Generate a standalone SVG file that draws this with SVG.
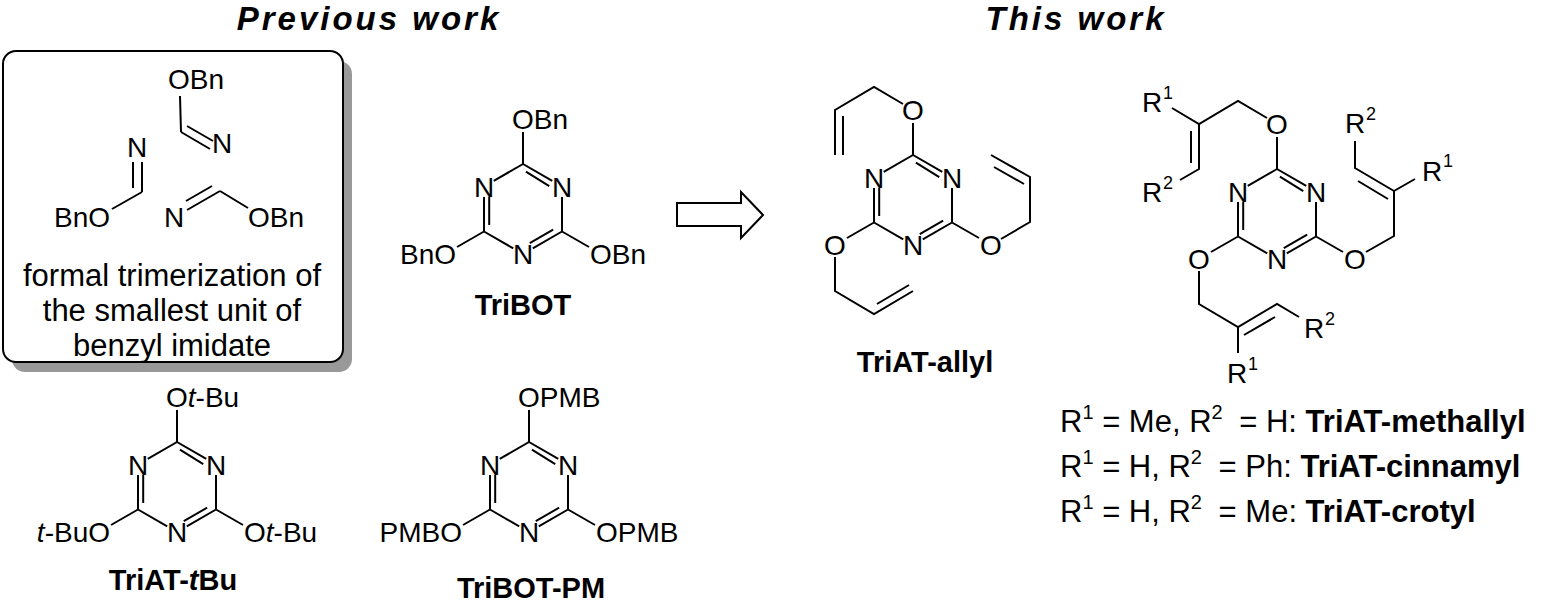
<svg xmlns="http://www.w3.org/2000/svg" xmlns:xlink="http://www.w3.org/1999/xlink" width="1544" height="605" viewBox="0 0 1544 605">
<style>
text{font-family:"Liberation Sans",Arial,sans-serif;fill:#000}
.t{font-size:28px}
.s{font-size:18px}
.l{font-size:31px}
.ls{font-size:20px}
.b{font-size:29px;font-weight:bold}
.h{font-size:33px;font-weight:bold;font-style:italic;letter-spacing:3px}
.m{font-size:31px}
line,polyline{stroke:#000;stroke-width:2;fill:none}
</style>
<defs>
<g id="tz">
<line x1="0" y1="-45" x2="29.25" y2="-28.1"/>
<line x1="2.9" y1="-37.4" x2="26.25" y2="-22.9"/>
<line x1="-29.25" y1="-28.1" x2="0" y2="-45"/>
<line x1="39" y1="-12" x2="39" y2="22.5"/>
<line x1="39" y1="22.5" x2="9.75" y2="39.4"/>
<line x1="30.15" y1="20.7" x2="6.75" y2="34.2"/>
<line x1="-9.75" y1="39.4" x2="-39" y2="22.5"/>
<line x1="-39" y1="22.5" x2="-39" y2="-12"/>
<line x1="-33.8" y1="16" x2="-33.8" y2="-12"/>
<line x1="0" y1="-45" x2="0" y2="-77"/>
<line x1="-39" y1="22.5" x2="-66" y2="38"/>
<line x1="39" y1="22.5" x2="66" y2="38"/>
<text class="t" x="-39" y="-12.5" text-anchor="middle">N</text>
<text class="t" x="39" y="-12.5" text-anchor="middle">N</text>
<text class="t" x="0" y="55" text-anchor="middle">N</text>
</g>
</defs>
<rect width="1544" height="605" fill="#fff"/>
<text class="h" x="369" y="30" text-anchor="middle">Previous work</text>
<text class="h" x="1076" y="30" text-anchor="middle">This work</text>

<g id="box">
<rect x="12" y="61" width="340" height="311" rx="13" fill="#999"/>
<rect x="3" y="51" width="340" height="311" rx="13" fill="#fff" stroke="#000" stroke-width="2"/>
<text class="t" x="168" y="89">OBn</text>
<line x1="180" y1="96" x2="181" y2="132"/>
<line x1="181" y1="132" x2="210" y2="149"/>
<line x1="187" y1="126" x2="213" y2="141"/>
<text class="t" x="212" y="153">N</text>
<text class="t" x="137" y="157" text-anchor="middle">N</text>
<line x1="142" y1="162" x2="142" y2="192"/>
<line x1="133" y1="162" x2="133" y2="188"/>
<line x1="142" y1="192" x2="112" y2="209"/>
<text class="t" x="110" y="227" text-anchor="end">BnO</text>
<text class="t" x="174" y="227" text-anchor="middle">N</text>
<line x1="187" y1="210" x2="220" y2="191"/>
<line x1="186" y1="201" x2="212" y2="186"/>
<line x1="220" y1="191" x2="248" y2="208"/>
<text class="t" x="248" y="227">OBn</text>
<text class="m" x="172" y="286" text-anchor="middle">formal trimerization of</text>
<text class="m" x="172" y="321" text-anchor="middle">the smallest unit of</text>
<text class="m" x="172" y="356" text-anchor="middle">benzyl imidate</text>
</g>

<g id="tribot">
<use xlink:href="#tz" href="#tz" transform="translate(523,209)"/>
<text class="t" x="512" y="129">OBn</text>
<text class="t" x="456" y="264" text-anchor="end">BnO</text>
<text class="t" x="590" y="264">OBn</text>
<text class="b" x="523" y="315" text-anchor="middle">TriBOT</text>
</g>

<g id="triat-tbu">
<use xlink:href="#tz" href="#tz" transform="translate(177,487)"/>
<text class="t" x="166" y="407">O<tspan font-style="italic">t</tspan>-Bu</text>
<text class="t" x="110" y="542" text-anchor="end"><tspan font-style="italic">t</tspan>-BuO</text>
<text class="t" x="244" y="542">O<tspan font-style="italic">t</tspan>-Bu</text>
<text class="b" x="173" y="590" text-anchor="middle">TriAT-<tspan font-style="italic">t</tspan>Bu</text>
</g>

<g id="tribot-pm">
<use xlink:href="#tz" href="#tz" transform="translate(529,487)"/>
<text class="t" x="518" y="407">OPMB</text>
<text class="t" x="462" y="542" text-anchor="end">PMBO</text>
<text class="t" x="596" y="542">OPMB</text>
<text class="b" x="531" y="598" text-anchor="middle">TriBOT-PM</text>
</g>

<g id="arrow">
<polygon points="677,203 741,203 741,192 763,215 741,238 741,226 677,226" fill="#fff" stroke="#000" stroke-width="2"/>
</g>

<g id="triat-allyl">
<use xlink:href="#tz" href="#tz" transform="translate(913,200)"/>
<text class="t" x="913" y="120" text-anchor="middle">O</text>
<text class="t" x="835" y="255" text-anchor="middle">O</text>
<text class="t" x="991" y="255" text-anchor="middle">O</text>
<polyline points="903,104 874,87 835,110 835,155"/>
<line x1="843" y1="116" x2="843" y2="155"/>
<polyline points="835,257 835,291 874,314 913,291"/>
<line x1="877" y1="304" x2="909" y2="285"/>
<polyline points="1001,239 1030,222 1030,177 991,155"/>
<line x1="1024" y1="184" x2="994" y2="167"/>
<text class="b" x="925" y="372" text-anchor="middle">TriAT-allyl</text>
</g>

<g id="triat-r">
<use xlink:href="#tz" href="#tz" transform="translate(1277,214)"/>
<text class="t" x="1277" y="134" text-anchor="middle">O</text>
<text class="t" x="1199" y="269" text-anchor="middle">O</text>
<text class="t" x="1355" y="269" text-anchor="middle">O</text>
<polyline points="1267,118 1238,101 1199,124 1172,108"/>
<polyline points="1199,124 1199,169 1180,180"/>
<line x1="1191" y1="131" x2="1191" y2="163"/>
<text class="t" x="1142" y="112">R</text><text class="s" x="1163" y="99">1</text>
<text class="t" x="1142" y="202">R</text><text class="s" x="1163" y="189">2</text>
<polyline points="1366,252 1394,236 1394,191 1415,179"/>
<polyline points="1394,191 1355,168 1355,141"/>
<line x1="1388" y1="199" x2="1358" y2="181"/>
<text class="t" x="1422" y="181">R</text><text class="s" x="1443" y="167">1</text>
<text class="t" x="1345" y="133">R</text><text class="s" x="1366" y="120">2</text>
<polyline points="1199,271 1199,304 1238,327 1277,304 1299,317"/>
<line x1="1238" y1="327" x2="1238" y2="353"/>
<line x1="1244" y1="335" x2="1275" y2="317"/>
<text class="t" x="1227" y="383">R</text><text class="s" x="1248" y="370">1</text>
<text class="t" x="1304" y="338">R</text><text class="s" x="1325" y="325">2</text>
</g>

<g id="legend">
<text class="l" x="1060" y="432">R<tspan class="ls" dy="-13">1</tspan><tspan dy="13"> = Me, R</tspan><tspan class="ls" dy="-13">2</tspan><tspan dy="13" dx="8"> = H: </tspan><tspan font-weight="bold">TriAT-methallyl</tspan></text>
<text class="l" x="1060" y="477">R<tspan class="ls" dy="-13">1</tspan><tspan dy="13"> = H, R</tspan><tspan class="ls" dy="-13">2</tspan><tspan dy="13" dx="8"> = Ph: </tspan><tspan font-weight="bold">TriAT-cinnamyl</tspan></text>
<text class="l" x="1060" y="522">R<tspan class="ls" dy="-13">1</tspan><tspan dy="13"> = H, R</tspan><tspan class="ls" dy="-13">2</tspan><tspan dy="13" dx="8"> = Me: </tspan><tspan font-weight="bold">TriAT-crotyl</tspan></text>
</g>
</svg>
